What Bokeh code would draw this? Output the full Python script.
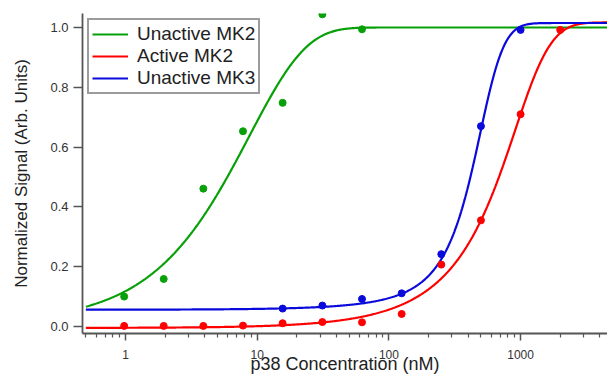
import numpy as np
from bokeh.plotting import figure
from bokeh.models import Range1d, FixedTicker, PrintfTickFormatter, Legend, LegendItem
from bokeh.embed import file_html
from bokeh.resources import INLINE

# ---- data ----
conc = [0.977, 1.95, 3.9, 7.8, 15.6, 31.25, 62.5, 125, 250, 500, 1000, 2000]   # nM
conc_unactive_mk2 = conc[:7]
unactive_mk2 = [0.100, 0.159, 0.461, 0.653, 0.748, 1.044, 0.994]
conc_active_mk2 = conc
active_mk2 = [0.002, 0.002, 0.002, 0.003, 0.011, 0.015, 0.014, 0.042, 0.207, 0.355, 0.710, 0.992]
conc_unactive_mk3 = conc[4:11]
unactive_mk3 = [0.060, 0.070, 0.092, 0.111, 0.242, 0.670, 0.992]

# fitted-curve parameters
g_top, g_amp, g_tau = 1.0, 0.989, 8.7                     # exponential rise
r_base, r_amp, r_half, r_rate = -0.323, 1.34, 490.0, 420.0  # sigmoid
b_base, b_amp, b_half, b_rate = 0.0196, 0.9954, 425.0, 130.0

x_major = [1, 10, 100, 1000]
x_minor = [0.5, 0.6, 0.7, 0.8, 0.9, 2, 3, 4, 5, 6, 7, 8, 9,
           20, 30, 40, 50, 60, 70, 80, 90, 200, 300, 400, 500, 600, 700, 800, 900,
           2000, 3000, 4000]
y_major = [0.0, 0.2, 0.4, 0.6, 0.8, 1.0]

series_names = ["Unactive MK2", "Active MK2", "Unactive MK3"]
colors = ["#08a008", "#ff0000", "#0a0adc"]

X_MIN, X_MAX = 0.4715, 4570
Y_MIN, Y_MAX = -0.0234, 1.0468

# ---- figure ----
FONT = "Liberation Sans"
p = figure(width=607, height=377, x_axis_type="log",
           x_range=Range1d(X_MIN, X_MAX), y_range=Range1d(Y_MIN, Y_MAX),
           output_backend="svg", toolbar_location=None,
           min_border_left=82, min_border_right=0, min_border_top=13, min_border_bottom=44)
p.outline_line_color = None
p.xgrid.visible = False
p.ygrid.visible = False
p.background_fill_color = "white"
p.border_fill_color = "white"

xs = np.logspace(np.log10(0.5), np.log10(X_MAX), 600)
g_fit = g_top - g_amp * np.exp(-xs / g_tau)
r_fit = r_base + r_amp / (1 + np.exp((r_half - xs) / r_rate))
b_fit = b_base + b_amp / (1 + np.exp((b_half - xs) / b_rate))

lg = p.line(xs, g_fit, line_color=colors[0], line_width=2.2)
lr = p.line(xs, r_fit, line_color=colors[1], line_width=2.2)
lb = p.line(xs, b_fit, line_color=colors[2], line_width=2.2)

p.scatter(conc_unactive_mk2, unactive_mk2, size=7, color=colors[0])
p.scatter(conc_active_mk2, active_mk2, size=7, color=colors[1])
p.scatter(conc_unactive_mk3, unactive_mk3, size=7, color=colors[2])

# axes
ax = p.xaxis[0]
ax.ticker = FixedTicker(ticks=x_major, minor_ticks=x_minor)
ax.formatter = PrintfTickFormatter(format="%d")
ax.axis_label = "p38 Concentration (nM)"
ax.axis_label_text_font = FONT
ax.axis_label_text_font_size = "18px"
ax.axis_label_text_font_style = "normal"
ax.axis_label_text_color = "#222222"
ax.axis_label_standoff = -8
ax.major_label_text_font = FONT
ax.major_label_text_font_size = "12px"
ax.major_label_text_color = "#333333"
ax.major_label_standoff = 9
ax.major_tick_out = 7
ax.major_tick_in = 0
ax.minor_tick_out = 4
ax.minor_tick_in = 0

ay = p.yaxis[0]
ay.ticker = FixedTicker(ticks=y_major, minor_ticks=[])
ay.formatter = PrintfTickFormatter(format="%.1f")
ay.axis_label = "Normalized Signal (Arb. Units)"
ay.axis_label_text_font = FONT
ay.axis_label_text_font_size = "17px"
ay.axis_label_text_font_style = "normal"
ay.axis_label_text_color = "#222222"
ay.axis_label_standoff = 16
ay.major_label_text_font = FONT
ay.major_label_text_font_size = "13px"
ay.major_label_text_color = "#333333"
ay.major_label_standoff = 5
ay.major_tick_out = 9
ay.major_tick_in = 0

for a in (ax, ay):
    a.axis_line_color = "#555555"
    a.axis_line_width = 1.8
    a.major_tick_line_color = "#555555"
    a.major_tick_line_width = 1.5
    a.minor_tick_line_color = "#555555"
    a.minor_tick_line_width = 1.2

legend = Legend(items=[LegendItem(label=series_names[0], renderers=[lg]),
                       LegendItem(label=series_names[1], renderers=[lr]),
                       LegendItem(label=series_names[2], renderers=[lb])],
                location="top_left", margin=5, padding=3, spacing=0,
                glyph_width=36, glyph_height=20, label_height=20, label_standoff=9,
                label_text_font=FONT, label_text_font_size="19px",
                label_text_color="#222222",
                border_line_color="#3a3a3a", border_line_width=2,
                background_fill_color="white", background_fill_alpha=1.0)
p.add_layout(legend)

open("out.html", "w").write(file_html(p, INLINE))
